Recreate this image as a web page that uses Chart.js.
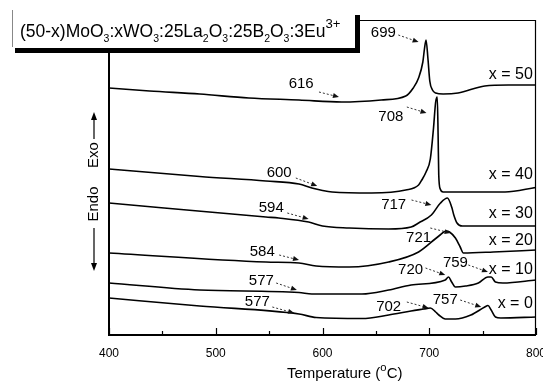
<!DOCTYPE html>
<html>
<head>
<meta charset="utf-8">
<script src="https://cdn.jsdelivr.net/npm/chart.js@4.4.0/dist/chart.umd.min.js"></script>
<style>
  html, body { margin: 0; padding: 0; background: #fff; }
  #wrap { width: 543px; height: 384px; }
</style>
</head>
<body>
<div id="wrap"><canvas id="dta" width="543" height="384"></canvas></div>
<script>
// DTA curves, [temperature °C, signal (arb. units, offset per sample)]
const x50 = [[400,247],[438,244],[485,241],[531,237],[578,235],[618,233],[655,235],[678,239],[685,247],[690,257],[694,273],[695.5,286],[697,295],[698.8,276],[700.5,254],[703,245],[706,242],[713,241],[727,242],[752,249],[774,250],[800,250]];
const x40 = [[400,166],[485,158.5],[547,154],[578,151],[590,147],[600,144.5],[609,143],[646,142],[678,145],[690,150],[693,155],[697,163],[701,176],[704,207],[706,233],[707.5,238],[708.3,200],[708.9,160],[710.3,146],[713,143],[771,143],[800,147.5]];
const x30 = [[400,132],[547,118],[559,117],[587,113],[600,109],[625,107],[662,106],[683,108],[690,112],[702,120],[710.5,132],[717,137],[721,128],[723,120],[726,112],[731,109],[800,109]];
const x20 = [[400,82],[547,73],[578,72],[594,69],[625,68],[662,73],[690,83],[709,99],[716,104],[719,103],[724.5,97],[729,88],[732,82],[760,83],[800,85]];
const x10 = [[400,52],[485,45],[578,42.5],[590,41],[637,41],[662,45],[683,50],[715,55],[718,58],[721,53],[724.5,48],[734,49],[746,52],[755,58],[758,58],[762,53],[769,52],[800,55]];
const x0 = [[400,37],[485,29],[578,21],[594,17.5],[637,16.5],[662,20],[683,24],[695,26],[701,27],[706,23],[709,20],[715,16],[724.5,16],[739,20],[752,28],[755,29.5],[758,25],[762,18],[767,17],[800,18]];

const seriesNames = ['x = 50', 'x = 40', 'x = 30', 'x = 20', 'x = 10', 'x = 0'];
const xTicks = [400, 500, 600, 700, 800];
const peakText = ['616', '699', '708', '600', '594', '717', '584', '721', '577', '720', '759', '577', '702', '757'];

// where the peak labels and their arrows sit: [labelT, labelY, fromT, fromY, toT, toY]
const peakSpot = [
  [580, 251, 596.7, 243, 615.4, 238],
  [657, 302, 671, 300, 690, 293],
  [664, 218, 679, 228, 697.4, 222],
  [559.4, 162, 575, 157, 595, 149],
  [552, 127, 567, 122, 587, 116],
  [666.7, 130, 683.4, 135, 702, 130],
  [543.6, 83, 559.4, 80, 578, 75],
  [690, 97, 701, 107, 720, 102],
  [542.7, 54, 556.6, 52, 576, 45],
  [682.5, 65, 696.5, 67, 715, 60],
  [724.5, 72, 736.6, 70, 755, 63],
  [539, 33, 553, 28, 573.4, 22],
  [662, 28, 679, 33, 699.3, 27],
  [715, 35, 729, 35, 748.7, 28]
];
const nameSpot = [[797, 260], [797, 160], [797, 121], [797, 94], [797, 65], [797, 31]];

const FONT = '"Liberation Sans", Arial, sans-serif';

function drawRich(ctx, x, y, parts, base) {
  parts.forEach(([txt, kind]) => {
    let size = base, dy = 0;
    if (kind === 'sub') { size = base * 0.6; dy = base * 0.3; }
    if (kind === 'sup') { size = base * 0.75; dy = -base * 0.5; }
    ctx.font = size + 'px ' + FONT;
    ctx.fillText(txt, x, y + dy);
    x += ctx.measureText(txt).width;
  });
  return x;
}

function arrow(ctx, x1, y1, x2, y2) {
  const a = Math.atan2(y2 - y1, x2 - x1);
  const hx = x2 - 6 * Math.cos(a), hy = y2 - 6 * Math.sin(a);
  ctx.save();
  ctx.strokeStyle = '#333';
  ctx.lineWidth = 1;
  ctx.setLineDash([2, 2]);
  ctx.beginPath(); ctx.moveTo(x1, y1); ctx.lineTo(hx, hy); ctx.stroke();
  ctx.setLineDash([]);
  ctx.fillStyle = '#111';
  ctx.beginPath();
  ctx.moveTo(x2, y2);
  ctx.lineTo(hx + 2.5 * Math.sin(a), hy - 2.5 * Math.cos(a));
  ctx.lineTo(hx - 2.5 * Math.sin(a), hy + 2.5 * Math.cos(a));
  ctx.closePath(); ctx.fill();
  ctx.restore();
}

const decor = {
  id: 'decor',
  afterDraw(chart) {
    const ctx = chart.ctx, a = chart.chartArea;
    const xs = chart.scales.x, ys = chart.scales.y;
    ctx.save();
    ctx.fillStyle = '#000';
    ctx.strokeStyle = '#000';

    // frame
    ctx.lineWidth = 1.2;
    ctx.beginPath();
    ctx.moveTo(a.left, a.top + 0.5); ctx.lineTo(a.right, a.top + 0.5);
    ctx.moveTo(a.right - 0.5, a.top); ctx.lineTo(a.right - 0.5, a.bottom);
    ctx.stroke();
    ctx.lineWidth = 2;
    ctx.beginPath();
    ctx.moveTo(a.left, a.top); ctx.lineTo(a.left, a.bottom);
    ctx.moveTo(a.left - 1, a.bottom); ctx.lineTo(a.right, a.bottom);
    ctx.stroke();

    // inward ticks
    ctx.lineWidth = 1.2;
    for (let t = 400; t <= 800; t += 50) {
      const px = Math.round(xs.getPixelForValue(t)) + 0.5;
      const len = t % 100 === 0 ? 7 : 4;
      ctx.beginPath(); ctx.moveTo(px, a.bottom); ctx.lineTo(px, a.bottom - len); ctx.stroke();
    }

    // x title
    ctx.textBaseline = 'alphabetic';
    ctx.textAlign = 'left';
    drawRich(ctx, 287, 378, [['Temperature (', 'n'], ['o', 'sup'], ['C)', 'n']], 15);

    // Exo / Endo
    ctx.save();
    ctx.translate(94, 0);
    ctx.rotate(-Math.PI / 2);
    ctx.font = '15px ' + FONT;
    ctx.textAlign = 'center';
    ctx.textBaseline = 'middle';
    ctx.fillText('Exo', -155, 0);
    ctx.fillText('Endo', -204, 0);
    ctx.lineWidth = 1.2;
    ctx.beginPath();
    ctx.moveTo(-139, 0); ctx.lineTo(-118, 0);
    ctx.moveTo(-228, 0); ctx.lineTo(-264, 0);
    ctx.stroke();
    ctx.beginPath(); ctx.moveTo(-112, 0); ctx.lineTo(-120, -3); ctx.lineTo(-120, 3); ctx.closePath(); ctx.fill();
    ctx.beginPath(); ctx.moveTo(-271, 0); ctx.lineTo(-263, -3); ctx.lineTo(-263, 3); ctx.closePath(); ctx.fill();
    ctx.restore();

    // peak labels with arrows
    ctx.textAlign = 'center';
    ctx.textBaseline = 'middle';
    ctx.font = '15px ' + FONT;
    peakText.forEach((txt, i) => {
      const s = peakSpot[i];
      ctx.fillText(txt, xs.getPixelForValue(s[0]), ys.getPixelForValue(s[1]));
      arrow(ctx, xs.getPixelForValue(s[2]), ys.getPixelForValue(s[3]),
        xs.getPixelForValue(s[4]), ys.getPixelForValue(s[5]));
    });

    // sample names
    ctx.textAlign = 'right';
    ctx.font = '16px ' + FONT;
    seriesNames.forEach((n, i) => {
      ctx.fillText(n, xs.getPixelForValue(nameSpot[i][0]), ys.getPixelForValue(nameSpot[i][1]));
    });

    // composition box
    ctx.fillStyle = '#fff';
    ctx.fillRect(12, 6, 345, 43);
    ctx.fillStyle = '#000';
    ctx.fillRect(15, 48, 345, 5);
    ctx.fillRect(355, 15, 5, 38);
    ctx.strokeStyle = '#888';
    ctx.lineWidth = 1;
    ctx.beginPath(); ctx.moveTo(12.5, 10); ctx.lineTo(12.5, 47); ctx.stroke();
    ctx.textAlign = 'left';
    ctx.textBaseline = 'alphabetic';
    drawRich(ctx, 20, 37, [
      ['(50-x)MoO', 'n'], ['3', 'sub'], [':xWO', 'n'], ['3', 'sub'],
      [':25La', 'n'], ['2', 'sub'], ['O', 'n'], ['3', 'sub'],
      [':25B', 'n'], ['2', 'sub'], ['O', 'n'], ['3', 'sub'],
      [':3Eu', 'n'], ['3+', 'sup']
    ], 17.5);
    ctx.restore();
  }
};

const curves = [x50, x40, x30, x20, x10, x0];

new Chart(document.getElementById('dta'), {
  type: 'line',
  data: {
    datasets: curves.map((c, i) => ({
      label: seriesNames[i],
      data: c.map(([x, y]) => ({ x, y })),
      borderColor: '#000',
      borderWidth: 1.6,
      pointRadius: 0,
      fill: false,
      cubicInterpolationMode: 'monotone'
    }))
  },
  options: {
    responsive: false,
    animation: false,
    devicePixelRatio: 1,
    layout: { padding: { left: 109, right: 7, top: 20, bottom: 0 } },
    plugins: { legend: { display: false }, tooltip: { enabled: false } },
    scales: {
      x: {
        type: 'linear',
        min: 400,
        max: 800,
        afterBuildTicks: s => { s.ticks = xTicks.map(v => ({ value: v })); },
        afterFit: s => { s.height = 49; s.paddingLeft = 0; s.paddingRight = 0; },
        grid: { display: false, drawTicks: false },
        border: { display: false },
        ticks: { color: '#000', font: { size: 12, family: FONT }, padding: 11, maxRotation: 0, autoSkip: false }
      },
      y: {
        display: false,
        min: 0,
        max: 315
      }
    }
  },
  plugins: [decor]
});
</script>
</body>
</html>
